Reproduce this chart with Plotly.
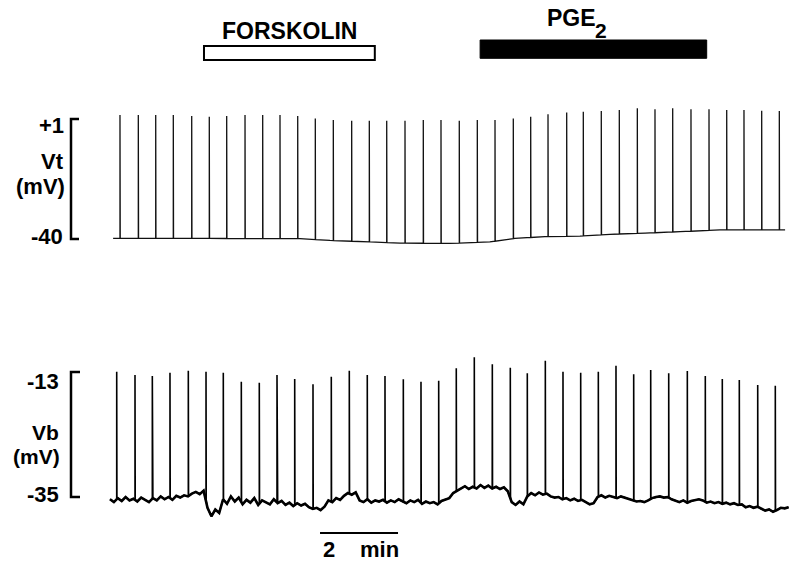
import numpy as np
import plotly.graph_objects as go

# ---------------- data (time in minutes, potentials in mV) ----------------
VT_SPIKE_T = [0.256, 0.726, 1.172, 1.623, 2.095, 2.546, 2.992, 3.462, 3.915, 4.359,
              4.813, 5.264, 5.726, 6.197, 6.649, 7.095, 7.564, 8.033, 8.487, 8.956,
              9.418, 9.872, 10.341, 10.787, 11.231, 11.710, 12.136, 12.597, 13.059, 13.521,
              13.974, 14.428, 14.897, 15.359, 15.813, 16.256, 16.710, 17.162]
VT_SPIKE_PEAK = [2.4, 2.4, 2.4, 2.4, 2.0, 1.8, 2.0, 2.4, 2.4, 2.4,
                 2.0, 1.2, 0.7, 0.4, 0.4, 0.4, 0.4, 0.7, 0.7, 0.4,
                 0.7, 0.7, 1.2, 1.8, 2.6, 3.2, 3.5, 3.7, 4.1, 4.7,
                 4.3, 4.7, 4.3, 4.3, 4.1, 4.1, 3.8, 3.7]
VT_BASE_T = [0.08, 2.31, 4.87, 5.64, 6.67, 7.44, 8.72, 9.74, 10.38, 11.15,
             12.05, 12.82, 13.72, 14.62, 15.64, 17.31]
VT_BASE_V = [-39.8, -39.8, -39.9, -40.5, -41.0, -41.4, -41.5, -41.0, -39.8, -39.2,
             -39.0, -38.4, -38.0, -37.5, -36.9, -36.9]

VB_SPIKE_T = [0.172, 0.641, 1.085, 1.538, 2.008, 2.462, 2.905, 3.367, 3.828, 4.282,
              4.736, 5.205, 5.674, 6.136, 6.597, 7.051, 7.521, 7.974, 8.428, 8.879,
              9.341, 9.803, 10.264, 10.700, 11.162, 11.615, 12.069, 12.521, 12.974, 13.428,
              13.864, 14.326, 14.803, 15.264, 15.700, 16.136, 16.608, 17.059]
VB_SPIKE_PEAK = [-12.95, -13.53, -13.70, -13.12, -12.77, -12.95, -13.12, -14.71, -14.88, -13.53,
                 -14.23, -15.16, -13.83, -12.77, -13.53, -13.70, -14.28, -14.71, -14.53, -12.35,
                 -10.41, -11.64, -12.24, -13.23, -11.01, -12.95, -13.12, -12.95, -11.89, -13.40,
                 -12.65, -13.23, -12.82, -13.70, -14.23, -14.41, -15.29, -15.41]
VB_BASE_T0 = 0.0
VB_BASE_DT = 0.1
VB_BASE_V = [-35.4, -35.9, -35.2, -35.7, -35.0, -35.6, -35.3, -35.8, -35.1, -35.5,
             -35.9, -35.2, -35.6, -34.9, -35.4, -35.0, -35.5, -34.8, -35.1, -34.7,
             -34.9, -34.4, -34.1, -34.5, -33.9, -36.9, -38.4, -37.2, -37.8, -35.4,
             -36.2, -34.9, -35.8, -35.1, -36.3, -35.5, -36.0, -35.2, -36.4, -35.6,
             -35.9, -36.3, -35.4, -36.1, -35.7, -36.4, -36.0, -36.6, -36.1, -36.5,
             -36.2, -36.8, -37.1, -36.9, -37.3, -36.7, -35.6, -35.9, -35.2, -35.5,
             -34.8, -34.3, -34.6, -34.2, -35.6, -35.9, -35.4, -36.0, -35.6, -35.8,
             -35.5, -36.0, -35.6, -35.9, -35.4, -35.8, -36.1, -35.6, -35.9, -35.5,
             -36.2, -35.8, -36.1, -35.9, -36.3, -35.7, -35.5, -35.2, -34.3, -33.9,
             -33.5, -33.1, -33.6, -33.2, -33.5, -32.9, -33.4, -33.0, -33.5, -33.2,
             -33.6, -33.3, -34.0, -35.9, -36.4, -35.8, -36.3, -34.9, -34.3, -34.7,
             -34.2, -34.6, -34.4, -34.9, -35.1, -35.0, -35.4, -35.2, -35.6, -35.3,
             -35.7, -35.5, -35.9, -36.3, -36.1, -35.0, -34.7, -35.1, -34.8, -35.0,
             -35.2, -34.9, -35.1, -35.4, -35.6, -35.8, -35.7, -35.9, -35.6, -35.2,
             -35.0, -34.9, -35.1, -35.0, -35.4, -35.7, -35.9, -35.6, -36.0, -35.7,
             -35.5, -35.4, -35.6, -36.0, -35.8, -36.1, -35.9, -36.2, -36.0, -36.3,
             -36.1, -36.4, -36.3, -36.8, -36.6, -36.9, -36.7, -37.1, -37.4, -37.2,
             -37.6, -37.3, -36.9, -37.0, -36.8]

FORSKOLIN_PERIOD = (2.41, 6.79)
PGE2_PERIOD = (9.49, 15.30)
SCALE_BAR_START = 5.385
SCALE_BAR_MIN = 2

VT_SCALE = (1, -40)
VT_SCALE_LABELS = ["+1", "-40"]
VB_SCALE = (-13, -35)
VB_SCALE_LABELS = ["-13", "-35"]


def build(base_t, base_v, spike_t, spike_peak):
    base_t = np.asarray(base_t, float)
    base_v = np.asarray(base_v, float)
    pts = list(zip(base_t, base_v))
    for t, p in zip(spike_t, spike_peak):
        f = float(np.interp(t, base_t, base_v))
        pts += [(t - 1e-4, f), (t, p), (t + 0.006, f)]
    pts.sort(key=lambda q: q[0])
    xs, ys = zip(*pts)
    return list(xs), list(ys)


vb_t = [VB_BASE_T0 + i * VB_BASE_DT for i in range(len(VB_BASE_V))]
vt_x, vt_y = build(VT_BASE_T, VT_BASE_V, VT_SPIKE_T, VT_SPIKE_PEAK)
vb_x, vb_y = build(vb_t, VB_BASE_V, VB_SPIKE_T, VB_SPIKE_PEAK)

W, H = 790, 563


def py(px):
    return 1 - px / H


def pxx(px):
    return px / W


fig = go.Figure()
fig.add_trace(go.Scatter(x=vt_x, y=vt_y, mode="lines", yaxis="y",
                         line=dict(color="#111111", width=1.3), hoverinfo="skip"))
fig.add_trace(go.Scatter(x=vb_x, y=vb_y, mode="lines", yaxis="y2",
                         line=dict(color="#000000", width=1.6), hoverinfo="skip"))
fig.add_trace(go.Scatter(x=vb_t, y=VB_BASE_V, mode="lines", yaxis="y2",
                         line=dict(color="#000000", width=2.6), hoverinfo="skip"))

FONT = dict(family="Liberation Sans, Arial, sans-serif", color="black", weight="bold")

shapes = []
# scale brackets
shapes.append(dict(type="path", xref="paper", yref="y",
                   path=f"M {pxx(79)},{VT_SCALE[0]} L {pxx(71)},{VT_SCALE[0]} "
                        f"L {pxx(71)},{VT_SCALE[1]} L {pxx(79)},{VT_SCALE[1]}",
                   line=dict(color="black", width=2.5)))
shapes.append(dict(type="path", xref="paper", yref="y2",
                   path=f"M {pxx(80)},{VB_SCALE[0]} L {pxx(71)},{VB_SCALE[0]} "
                        f"L {pxx(71)},{VB_SCALE[1]} L {pxx(80)},{VB_SCALE[1]}",
                   line=dict(color="black", width=2.5)))
# treatment bars
shapes.append(dict(type="rect", xref="x", yref="paper",
                   x0=FORSKOLIN_PERIOD[0], x1=FORSKOLIN_PERIOD[1], y0=py(60), y1=py(46),
                   line=dict(color="black", width=2), fillcolor="white"))
shapes.append(dict(type="rect", xref="x", yref="paper",
                   x0=PGE2_PERIOD[0], x1=PGE2_PERIOD[1], y0=py(58.3), y1=py(40),
                   line=dict(color="black", width=1), fillcolor="black"))
# time scale bar
shapes.append(dict(type="line", xref="x", yref="paper",
                   x0=SCALE_BAR_START, x1=SCALE_BAR_START + SCALE_BAR_MIN, y0=py(533), y1=py(533),
                   line=dict(color="black", width=2)))

ann = []


def label(text, xpx, ypx, size=22, xanchor="right"):
    ann.append(dict(text=text, xref="paper", yref="paper", x=pxx(xpx), y=py(ypx),
                    xanchor=xanchor, yanchor="middle", showarrow=False,
                    font=dict(size=size, **FONT)))


label(VT_SCALE_LABELS[0], 66, 125)
label("Vt", 66, 161)
label("(mV)", 67, 186)
label(VT_SCALE_LABELS[1], 65, 236)
label(VB_SCALE_LABELS[0], 61, 381)
label("Vb", 61, 432, size=21)
label("(mV)", 62, 456, size=21)
label(VB_SCALE_LABELS[1], 61, 494)

ann.append(dict(text="FORSKOLIN", xref="x", yref="paper",
                x=(FORSKOLIN_PERIOD[0] + FORSKOLIN_PERIOD[1]) / 2, y=py(31),
                xanchor="center", yanchor="middle", showarrow=False,
                font=dict(size=23, **FONT)))
label("PGE", 598, 18, size=23, xanchor="right")
label("2", 593, 30, size=21, xanchor="left")
label(str(SCALE_BAR_MIN), 329, 549, size=22, xanchor="center")
label("min", 379, 549, size=22, xanchor="center")

x_lo = -110 / 39
x_hi = 680 / 39

fig.update_layout(
    width=W, height=H,
    margin=dict(l=0, r=0, t=0, b=0),
    paper_bgcolor="white", plot_bgcolor="white",
    showlegend=False,
    xaxis=dict(range=[x_lo, x_hi], visible=False, fixedrange=True),
    yaxis=dict(domain=[0.5, 1.0], range=[-54.52, 41.66], visible=False, fixedrange=True),
    yaxis2=dict(domain=[0.0, 0.5], range=[-46.62, 2.93], visible=False, fixedrange=True),
    shapes=shapes,
    annotations=ann,
)

fig.write_html("out.html")
